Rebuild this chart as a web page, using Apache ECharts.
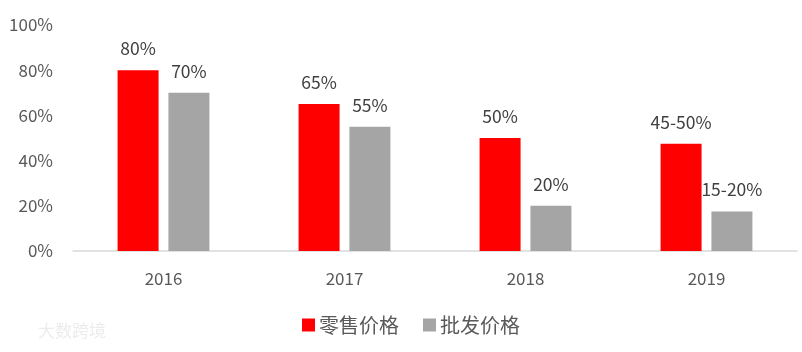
<!DOCTYPE html>
<html><head><meta charset="utf-8">
<script src="https://cdn.jsdelivr.net/npm/echarts@6/dist/echarts.min.js"></script>
<style>html,body{margin:0;padding:0;background:#fff}#c{width:802px;height:352px}</style>
</head><body><div id="c"></div>
<script>
const categories = ['2016', '2017', '2018', '2019'];
const retailValues = [80, 65, 50, 47.5];
const wholesaleValues = [70, 55, 20, 17.5];
const retailLabels = ['80%', '65%', '50%', '45-50%'];
const wholesaleLabels = ['70%', '55%', '20%', '15-20%'];
const yTicks = [0, 20, 40, 60, 80, 100];
const seriesNames = ['零售价格', '批发价格'];

const font = '"Microsoft YaHei","Noto Sans CJK SC","Liberation Sans",sans-serif';
const chart = echarts.init(document.getElementById('c'));
chart.setOption({
  animation: false,
  backgroundColor: '#fff',
  textStyle: { fontFamily: font },
  grid: { left: 73, right: 5, top: 25, height: 226 },
  legend: {
    bottom: 12, left: 297,
    itemWidth: 13, itemHeight: 13, itemGap: 24,
    icon: 'rect',
    textStyle: { fontSize: 20, color: '#595959', fontFamily: font, padding: [0, 0, 0, -1] },
    data: seriesNames
  },
  xAxis: {
    type: 'category', data: categories,
    axisLine: { lineStyle: { color: '#D9D9D9', width: 1.5 } },
    axisTick: { show: false },
    axisLabel: { fontSize: 17, color: '#595959', margin: 19, fontFamily: font }
  },
  yAxis: {
    type: 'value', min: yTicks[0], max: yTicks[yTicks.length - 1], interval: 20,
    axisLine: { show: false }, axisTick: { show: false },
    splitLine: { show: false },
    axisLabel: { fontSize: 17, color: '#595959', margin: 20, formatter: v => v + '%', fontFamily: font }
  },
  series: [
    {
      name: seriesNames[0], type: 'bar', data: retailValues, barWidth: 41, barGap: '24%',
      itemStyle: { color: '#FF0000' },
      label: { show: true, position: 'top', distance: 13, fontSize: 17.5, color: '#404040',
        formatter: p => retailLabels[p.dataIndex], fontFamily: font }
    },
    {
      name: seriesNames[1], type: 'bar', data: wholesaleValues, barWidth: 41,
      itemStyle: { color: '#A5A5A5' },
      label: { show: true, position: 'top', distance: 13, fontSize: 17.5, color: '#404040',
        formatter: p => wholesaleLabels[p.dataIndex], fontFamily: font }
    }
  ],
  graphic: [{
    type: 'text', left: 38, top: 322,
    style: { text: '大数跨境', fontSize: 17, fill: '#ECECEC', fontFamily: font }
  }]
});
</script></body></html>
